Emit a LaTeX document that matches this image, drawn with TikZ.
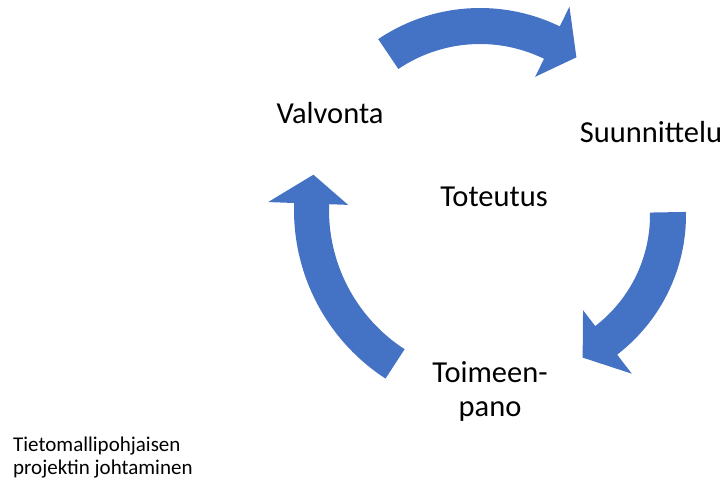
\documentclass[tikz,border=0pt]{standalone}
\usepackage{fontspec}
\setmainfont{Carlito}
\usepackage{tikz}
\usetikzlibrary{positioning}

\definecolor{cycleblue}{HTML}{4472C4}
\tikzset{
  phase/.style={font=\fontsize{30.5}{34}\selectfont, inner sep=0pt, align=center},
  note/.style={font=\fontsize{21}{22.5}\selectfont, inner sep=0pt, align=left},
  cyclearrow/.style={fill=cycleblue}
}

\begin{document}
\begin{tikzpicture}[x=1pt,y=-1pt]
\useasboundingbox (0,0) rectangle (728,480);

% arrows of the cycle
\fill[cyclearrow,shift={(480,190)}] (-124:182) arc[start angle=-124,end angle=-64,radius=182]
  -- (-64:204) -- (-54:164) -- (-64:126) -- (-64:146) arc[start angle=-64,end angle=-124,radius=146] -- cycle;
\fill[cyclearrow,shift={(510,215)}] (-1:176) arc[start angle=-1,end angle=52.5,radius=176]
  -- (52.5:200) -- (63:160) -- (52.5:120) -- (52.5:140) arc[start angle=52.5,end angle=-1,radius=140] -- cycle;
\fill[cyclearrow,shift={(495,210)}] (123:201) arc[start angle=123,end angle=182,radius=201]
  -- (182:227) -- (191:185) -- (182:147) -- (182:166) arc[start angle=182,end angle=123,radius=166] -- cycle;

\node[phase,anchor=base] (valvonta) at (330,123) {Valvonta};
\node[phase,anchor=base] (suunnittelu) at (651,142) {Suunnittelu};
\node[phase,anchor=base] (toteutus) at (494,206) {Toteutus};
\node[phase,anchor=base] (toimeenpano) at (490,416) {Toimeen-\\pano};

\node[note,anchor=base west] (otsikko) at (13,474) {Tietomallipohjaisen\\projektin johtaminen};
\end{tikzpicture}
\end{document}
